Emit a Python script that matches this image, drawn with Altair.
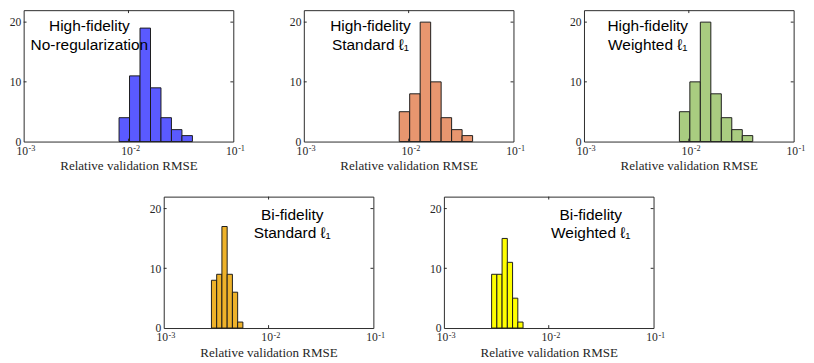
import altair as alt
import pandas as pd

# ---- data ----
HF_EDGES = [0.00813, 0.01023, 0.01288, 0.01622, 0.02042, 0.02570, 0.03236, 0.04074]
BF_EDGES = [0.002851, 0.003199, 0.003589, 0.004027, 0.004519, 0.005070, 0.005689]

HF_NOREG = [4, 11, 19, 9, 4, 2, 1]
HF_STD = [5, 8, 20, 10, 4, 2, 1]
HF_WTD = [5, 10, 20, 8, 4, 2, 1]
BF_STD = [8, 9, 17, 9, 6, 1]
BF_WTD = [9, 9, 15, 11, 5, 1]

COLORS = ["#5a5aff", "#e8966f", "#a9cc80", "#eeb22a", "#ffff00"]
LABELS = [
    ["High-fidelity", "No-regularization"],
    ["High-fidelity", "Standard \u2113\u2081"],
    ["High-fidelity", "Weighted \u2113\u2081"],
    ["Bi-fidelity", "Standard \u2113\u2081"],
    ["Bi-fidelity", "Weighted \u2113\u2081"],
]
X_TICKS = [0.001, 0.01, 0.1]
X_EXPONENTS = ["-3", "-2", "-1"]
Y_TICKS = [0, 10, 20]

W, H = 217, 136
FRAME = "#262626"
SERIF = "Liberation Serif"
SANS = "Liberation Sans"


def panel(edges, counts, color, lines, tx, ty):
    df = pd.DataFrame({"lo": edges[:-1], "hi": edges[1:], "count": counts})
    xs = alt.Scale(type="log", domain=[0.001, 0.1], nice=False)
    ys = alt.Scale(domain=[0, 22], nice=False)
    bars = alt.Chart(df).mark_bar(stroke="#1a1a1a", strokeWidth=1, color=color, opacity=1).encode(
        x=alt.X("lo:Q", scale=xs, axis=alt.Axis(
            values=X_TICKS, labelExpr="'10'", labelAlign="center", labelOffset=-2,
            title="Relative validation RMSE", labelFlush=False, labelOverlap=False,
            grid=False, domain=False, ticks=False, labelFont=SERIF, labelFontSize=12,
            labelColor=FRAME, labelPadding=4, titleFont=SERIF, titleFontSize=13.5,
            titleFontWeight="normal", titleColor=FRAME, titlePadding=3)),
        x2="hi:Q",
        y=alt.Y("count:Q", scale=ys, axis=alt.Axis(
            values=Y_TICKS, title=None, grid=False, domain=False, ticks=False,
            labelFont=SERIF, labelFontSize=12, labelColor=FRAME, labelPadding=3)),
        y2=alt.datum(0),
    )
    ydf = pd.DataFrame({"count": [10, 20]})
    xdf = pd.DataFrame({"lo": [0.01]})
    sdf = pd.DataFrame({"lo": X_TICKS, "exp": X_EXPONENTS})
    lt = alt.Chart(ydf).mark_rule(color=FRAME, strokeWidth=1).encode(
        y="count:Q", x=alt.value(0), x2=alt.value(3))
    rt = alt.Chart(ydf).mark_rule(color=FRAME, strokeWidth=1).encode(
        y="count:Q", x=alt.value(W - 3), x2=alt.value(W))
    bt = alt.Chart(xdf).mark_rule(color=FRAME, strokeWidth=1).encode(
        x="lo:Q", y=alt.value(H), y2=alt.value(H - 3))
    tt = alt.Chart(xdf).mark_rule(color=FRAME, strokeWidth=1).encode(
        x="lo:Q", y=alt.value(0), y2=alt.value(3))
    sup = alt.Chart(sdf).mark_text(
        font=SERIF, fontSize=8.5, align="left", baseline="alphabetic", dx=5, color=FRAME
    ).encode(x="lo:Q", y=alt.value(H + 10), text="exp:N")
    txt = alt.Chart(pd.DataFrame({"a": [0]})).mark_text(
        text=lines, font=SANS, fontSize=16, lineHeight=19, baseline="middle",
        align="center", color="#000000").encode(x=alt.value(tx), y=alt.value(ty))
    return alt.layer(bars, lt, rt, bt, tt, sup, txt).properties(width=W, height=H)


p1 = panel(HF_EDGES, HF_NOREG, COLORS[0], LABELS[0], 68, 17)
p2 = panel(HF_EDGES, HF_STD, COLORS[1], LABELS[1], 69, 17)
p3 = panel(HF_EDGES, HF_WTD, COLORS[2], LABELS[2], 66, 17)
p4 = panel(BF_EDGES, BF_STD, COLORS[3], LABELS[3], 133, 19)
p5 = panel(BF_EDGES, BF_WTD, COLORS[4], LABELS[4], 152, 19)

top = alt.hconcat(p1, p2, p3, spacing=44)
bottom = alt.hconcat(p4, p5, spacing=44)
chart = alt.vconcat(top, bottom, spacing=24, center=True).properties(
    padding={"top": -5, "left": 0, "right": 0, "bottom": 0}, background="white"
).configure_view(stroke=FRAME, strokeWidth=1)

chart.save("out.html", embed_options={"renderer": "svg", "actions": False})
